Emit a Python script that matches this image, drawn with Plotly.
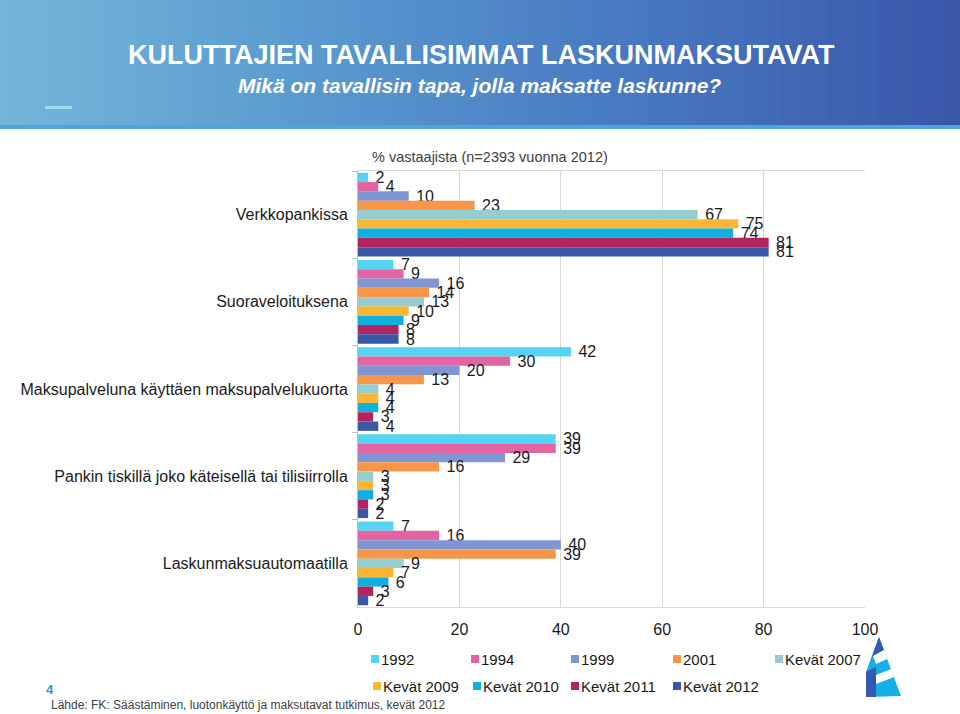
import plotly.graph_objects as go

# ---------------- data ----------------
categories = [
    "Verkkopankissa",
    "Suoraveloituksena",
    "Maksupalveluna käyttäen maksupalvelukuorta",
    "Pankin tiskillä joko käteisellä tai tilisiirrolla",
    "Laskunmaksuautomaatilla",
]
series_names = ["1992", "1994", "1999", "2001", "Kevät 2007",
                "Kevät 2009", "Kevät 2010", "Kevät 2011", "Kevät 2012"]
v1992 = [2, 7, 42, 39, 7]
v1994 = [4, 9, 30, 39, 16]
v1999 = [10, 16, 20, 29, 40]
v2001 = [23, 14, 13, 16, 39]
v2007 = [67, 13, 4, 3, 9]
v2009 = [75, 10, 4, 3, 7]
v2010 = [74, 9, 4, 3, 6]
v2011 = [81, 8, 3, 2, 3]
v2012 = [81, 8, 4, 2, 2]
series_values = [v1992, v1994, v1999, v2001, v2007, v2009, v2010, v2011, v2012]
x_ticks = [0, 20, 40, 60, 80, 100]

colors = ["#55d3f3", "#e264a2", "#7f96d2", "#f79548", "#95cdd0",
          "#fbb733", "#0fb0df", "#b3235f", "#3a58a7"]

# ---------------- geometry helpers ----------------
W, H = 960, 714
L, R, T, B = 358, 865, 171, 607


def px(x):
    return (x - L) / (R - L)


def py(y):
    return (B - y) / (B - T)


FONT = "Liberation Sans, Arial, sans-serif"

fig = go.Figure()
for name, vals, col in zip(series_names, series_values, colors):
    fig.add_trace(go.Bar(
        name=name, y=categories, x=vals, orientation="h",
        marker=dict(color=col, line=dict(width=0)),
        text=vals, texttemplate="\u00a0%{x}", textposition="outside", constraintext="none",
        cliponaxis=False,
        textfont=dict(family=FONT, size=16, color="#1a1a1a"),
        showlegend=False,
    ))

shapes = []
annotations = []

# header gradient
stops = [(0, (118, 181, 217)), (300, (90, 155, 208)), (620, (72, 122, 194)), (960, (58, 86, 170))]


def grad(x):
    for (x0, c0), (x1, c1) in zip(stops[:-1], stops[1:]):
        if x0 <= x <= x1:
            t = (x - x0) / (x1 - x0)
            return "rgb(%d,%d,%d)" % tuple(round(a + (b - a) * t) for a, b in zip(c0, c1))
    return "rgb(%d,%d,%d)" % stops[-1][1]


step = 12
for i in range(0, W, step):
    shapes.append(dict(type="rect", xref="paper", yref="paper",
                       x0=px(i), x1=px(i + step + 1), y0=py(125), y1=py(0),
                       fillcolor=grad(i + step / 2), line=dict(width=0), layer="below"))
shapes.append(dict(type="rect", xref="paper", yref="paper",
                   x0=px(0), x1=px(W), y0=py(129), y1=py(125),
                   fillcolor="#4aa6dc", line=dict(width=0), layer="below"))
shapes.append(dict(type="rect", xref="paper", yref="paper",
                   x0=px(45), x1=px(72), y0=py(109), y1=py(106),
                   fillcolor="#9ae0ea", line=dict(width=0), layer="below"))


# logo
def path(points):
    return "M " + " L ".join("%f,%f" % (px(a), py(b)) for a, b in points) + " Z"


shapes.append(dict(type="path", xref="paper", yref="paper",
                   path=path([(879, 637), (901, 696), (866, 697), (866, 672)]),
                   fillcolor="#17b0e6", line=dict(width=0)))
shapes.append(dict(type="path", xref="paper", yref="paper",
                   path=path([(879, 637), (884, 650), (873, 656), (870, 662)]),
                   fillcolor="#3658b0", line=dict(width=0)))
shapes.append(dict(type="path", xref="paper", yref="paper",
                   path=path([(866, 672), (876, 667), (876, 697), (866, 697)]),
                   fillcolor="#3658b0", line=dict(width=0)))
shapes.append(dict(type="path", xref="paper", yref="paper",
                   path=path([(873, 656), (884, 650), (887, 659), (876, 664)]),
                   fillcolor="white", line=dict(width=0)))
shapes.append(dict(type="path", xref="paper", yref="paper",
                   path=path([(876, 675), (891, 669), (894, 677), (876, 684)]),
                   fillcolor="white", line=dict(width=0)))

# legend (manual, Excel-style compact)
legend_pos = [(371, 659), (471, 659), (571, 659), (673, 659), (775, 659),
              (373, 686), (473, 686), (571, 686), (673, 686)]
for name, col, (lx, ly) in zip(series_names, colors, legend_pos):
    shapes.append(dict(type="rect", xref="paper", yref="paper",
                       x0=px(lx), x1=px(lx + 8), y0=py(ly + 4), y1=py(ly - 4),
                       fillcolor=col, line=dict(width=0)))
    annotations.append(dict(xref="paper", yref="paper", x=px(lx + 8), y=py(ly),
                            xanchor="left", yanchor="middle", showarrow=False,
                            text=name, font=dict(size=15, color="#1a1a1a", family=FONT)))

# titles and texts
annotations += [
    dict(xref="paper", yref="paper", x=px(481), y=py(55), xanchor="center", yanchor="middle",
         showarrow=False, text="<b>KULUTTAJIEN TAVALLISIMMAT LASKUNMAKSUTAVAT</b>",
         font=dict(size=27, color="white", family="Liberation Sans Narrow, Liberation Sans, Arial")),
    dict(xref="paper", yref="paper", x=px(479), y=py(86), xanchor="center", yanchor="middle",
         showarrow=False, text="<b><i>Mikä on tavallisin tapa, jolla maksatte laskunne?</i></b>",
         font=dict(size=21, color="white", family="Liberation Sans Narrow, Liberation Sans, Arial")),
    dict(xref="paper", yref="paper", x=px(370), y=py(157), xanchor="left", yanchor="middle",
         showarrow=False, text="% vastaajista (n=2393 vuonna 2012)",
         font=dict(size=14.5, color="#404040", family=FONT)),
    dict(xref="paper", yref="paper", x=px(44), y=py(689), xanchor="left", yanchor="middle",
         showarrow=False, text="<b>4</b>",
         font=dict(size=13, color="#1aa0d2", family=FONT)),
    dict(xref="paper", yref="paper", x=px(49), y=py(705), xanchor="left", yanchor="middle",
         showarrow=False,
         text="Lähde: FK: Säästäminen, luotonkäyttö ja maksutavat tutkimus, kevät 2012",
         font=dict(size=12, color="#404040", family=FONT)),
]

fig.update_layout(
    width=W, height=H,
    margin=dict(l=L, r=W - R, t=T, b=H - B, pad=0),
    paper_bgcolor="white", plot_bgcolor="white",
    barmode="group", bargap=0.04, bargroupgap=0,
    font=dict(family=FONT, size=14, color="#1a1a1a"),
    showlegend=False,
    shapes=shapes, annotations=annotations,
    xaxis=dict(range=[0, 100], tickvals=x_ticks, showgrid=True, gridcolor="#d9d9d9",
               gridwidth=1, showline=True, linecolor="#d9d9d9", mirror=True,
               zeroline=False, ticks="", ticklabelstandoff=8,
               tickfont=dict(size=16, color="#1a1a1a"), fixedrange=True),
    yaxis=dict(autorange="reversed", showgrid=False, showline=True, linecolor="#bfbfbf",
               ticks="outside", tickson="boundaries", ticklen=5, tickcolor="#bfbfbf",
               ticklabelstandoff=6, tickfont=dict(size=16, color="#1a1a1a"), fixedrange=True),
)

fig.write_html("out.html", config={"displayModeBar": False},
               post_script="document.body.style.margin='0px';document.body.style.overflow='hidden';")
